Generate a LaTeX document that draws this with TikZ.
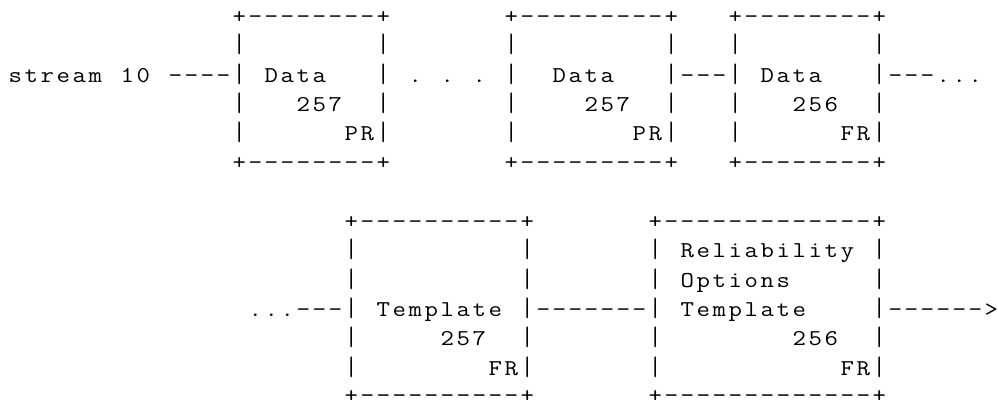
\documentclass[tikz,border=0pt]{standalone}
\usepackage{fontspec}
\usepackage{graphicx}
\ExplSyntaxOn
\dim_new:N \l_asc_cw_dim
\dim_set:Nn \l_asc_cw_dim { 12pt }
\NewDocumentCommand \gridrow { m }
  {
    \str_map_inline:nn { #1 }
      {
        \str_case:nnF { ##1 }
          {
            { @ } { \hbox_to_wd:nn { \l_asc_cw_dim } { } }
            { | } { \hbox_to_wd:nn { \l_asc_cw_dim } { \hfil \scalebox{1.1}[1.18]{|} \hfil } }
            { - } { \hbox_to_wd:nn { \l_asc_cw_dim } { \hfil \scalebox{1.2}[1]{-} \hfil } }
          }
          { \hbox_to_wd:nn { \l_asc_cw_dim } { \hfil \scalebox{1.15}[1]{##1} \hfil } }
      }
  }
\ExplSyntaxOff
\begin{document}
\begin{tikzpicture}[x=0.75pt,y=-0.75pt,
  row/.style={anchor=base west, inner sep=0pt, font=\ttfamily\fontsize{17pt}{20pt}\selectfont}]
\useasboundingbox (0,0) rectangle (998,403);
% upper chain
\node[row] (r0) at (7,23.4)  {\gridrow{@@@@@@@@@@@@@@+--------+@@@@@@@+---------+@@@+--------+}};
\node[row] (r1) at (7,52.7)  {\gridrow{@@@@@@@@@@@@@@|@@@@@@@@|@@@@@@@|@@@@@@@@@|@@@|@@@@@@@@|}};
\node[row] (r2) at (7,82.0)  {\gridrow{stream@10@----|@Data@@@|@.@.@.@|@@Data@@@|---|@Data@@@|---...}};
\node[row] (r3) at (7,111.3) {\gridrow{@@@@@@@@@@@@@@|@@@257@@|@@@@@@@|@@@@257@@|@@@|@@@256@@|}};
\node[row] (r4) at (7,140.6) {\gridrow{@@@@@@@@@@@@@@|@@@@@@PR|@@@@@@@|@@@@@@@PR|@@@|@@@@@@FR|}};
\node[row] (r5) at (7,169.9) {\gridrow{@@@@@@@@@@@@@@+--------+@@@@@@@+---------+@@@+--------+}};
% lower chain
\node[row] (r7)  at (7,228.5) {\gridrow{@@@@@@@@@@@@@@@@@@@@@+----------+@@@@@@@+-------------+}};
\node[row] (r8)  at (7,257.8) {\gridrow{@@@@@@@@@@@@@@@@@@@@@|@@@@@@@@@@|@@@@@@@|@Reliability@|}};
\node[row] (r9)  at (7,287.1) {\gridrow{@@@@@@@@@@@@@@@@@@@@@|@@@@@@@@@@|@@@@@@@|@Options@@@@@|}};
\node[row] (r10) at (7,316.4) {\gridrow{@@@@@@@@@@@@@@@...---|@Template@|-------|@Template@@@@|------>}};
\node[row] (r11) at (7,345.7) {\gridrow{@@@@@@@@@@@@@@@@@@@@@|@@@@@257@@|@@@@@@@|@@@@@@@@256@@|}};
\node[row] (r12) at (7,375.0) {\gridrow{@@@@@@@@@@@@@@@@@@@@@|@@@@@@@@FR|@@@@@@@|@@@@@@@@@@@FR|}};
\node[row] (r13) at (7,402.8) {\gridrow{@@@@@@@@@@@@@@@@@@@@@+----------+@@@@@@@+-------------+}};
\end{tikzpicture}
\end{document}
